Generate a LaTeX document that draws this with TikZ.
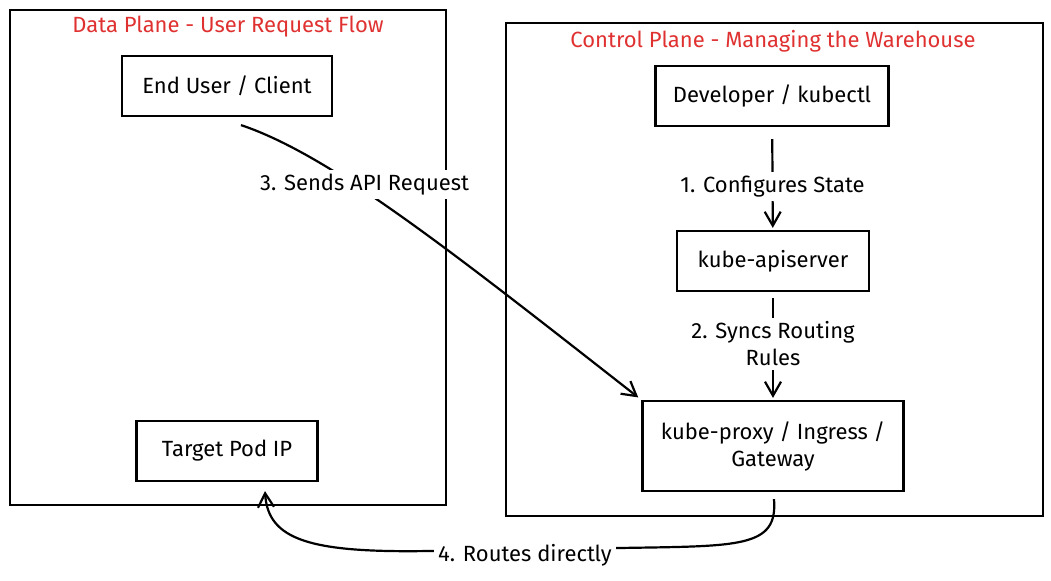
\documentclass[tikz,border=0pt]{standalone}
\usepackage{fontspec}
\setmainfont{Fira Sans}
\usepackage{tikz}
\usetikzlibrary{arrows.meta, positioning, calc}
\definecolor{planered}{RGB}{224,49,49}
\newcommand{\diagfont}{\fontsize{11}{13.5}\selectfont}

\begin{document}
\begin{tikzpicture}[x=0.5pt, y=-0.5pt,
  comp/.style={draw, line width=1.1pt, fill=white, font=\diagfont, align=center, minimum height=30pt},
  frame/.style={draw, line width=1.1pt},
  flow/.style={-{Straight Barb[length=7pt, width=8pt]}, line width=1.1pt},
  flowlbl/.style={fill=white, font=\diagfont, align=center, inner sep=2pt},
  title/.style={text=planered, font=\diagfont}]
  \useasboundingbox (0,0) rectangle (1051,581);
  % the two planes
  \draw[frame] (10,10) rectangle (446,505);
  \draw[frame] (506,23) rectangle (1043,516);
  \node[title] (dtitle) at (228,27) {Data Plane - User Request Flow};
  \node[title] (ctitle) at (773,41) {Control Plane - Managing the Warehouse};
  % components
  \node[comp, minimum width=105pt] (eu) at (227,86) {End User / Client};
  \node[comp, minimum width=90.5pt] (tp) at (227,451) {Target Pod IP};
  \node[comp, minimum width=116.5pt] (dev) at (772,96) {Developer / kubectl};
  \node[comp, minimum width=96pt] (api) at (773,261) {kube-apiserver};
  \node[comp, minimum width=130.5pt, minimum height=45pt] (kp) at (773,446) {kube-proxy / Ingress /\\Gateway};
  % flows
  \draw[flow, shorten <=6pt, shorten >=1pt] (dev) -- (api) node[flowlbl, pos=0.58] {1. Configures State};
  \draw[flow, shorten <=3pt, shorten >=1pt] (api) -- (kp) node[flowlbl, pos=0.48] {2. Syncs Routing\\Rules};
  \draw[flow, shorten >=2pt] ($(eu.south)+(14,8)$) .. controls (330,155) and (450,250) .. (kp.north west)
    node[flowlbl, pos=0.37, xshift=5pt] {3. Sends API Request};
  \draw[flow] ($(kp.south)+(1,7)$) .. controls (778,548) and (740,546) .. (620,548)
    -- node[flowlbl, pos=0.5, yshift=-3pt] {4. Routes directly} (430,551)
    .. controls (310,553) and (268,540) .. ($(tp.south)+(38,9)$);
\end{tikzpicture}
\end{document}
